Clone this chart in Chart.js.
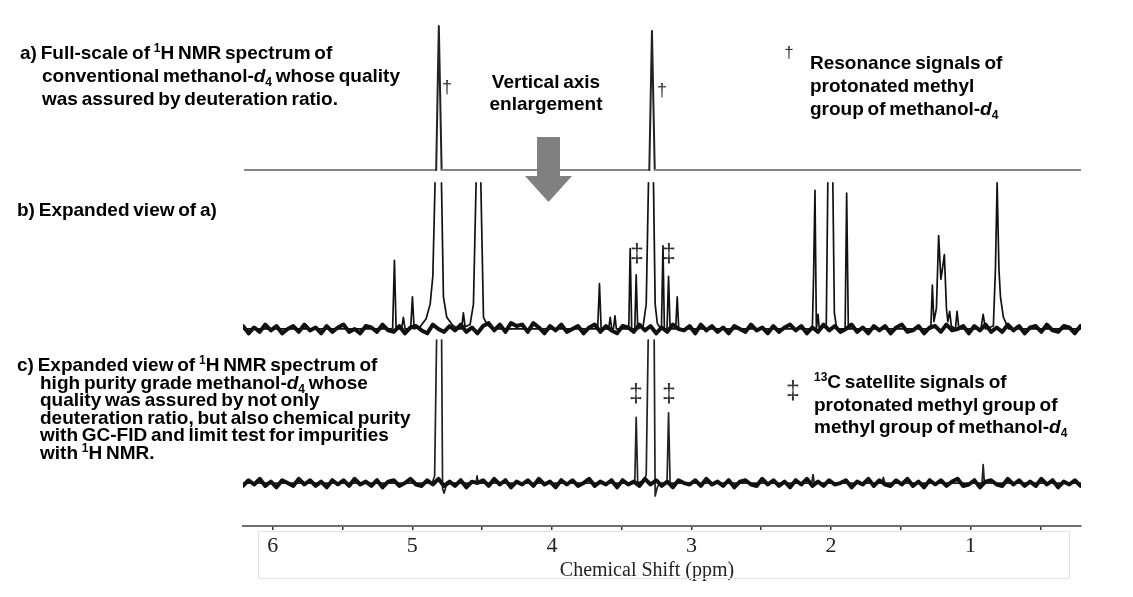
<!DOCTYPE html>
<html>
<head>
<meta charset="utf-8">
<script src="https://cdn.jsdelivr.net/npm/chart.js@4.4.1/dist/chart.umd.min.js"></script>
<style>
  html, body { margin: 0; padding: 0; background: #fff; }
  #wrap { position: relative; width: 1133px; height: 597px; }
  .note {
    position: absolute;
    font-family: "Liberation Sans", Arial, sans-serif;
    font-weight: bold;
    font-size: 19px;
    color: #000;
    white-space: nowrap;
    word-spacing: -1.5px;
  }
  .note sub { font-size: 12px; vertical-align: -4px; line-height: 0; }
  .note sup { font-size: 12px; vertical-align: 7px; line-height: 0; }
  .mark {
    position: absolute;
    font-family: "Liberation Sans", Arial, sans-serif;
    color: #333;
    line-height: 1;
    transform: translate(-50%, -50%);
  }
</style>
</head>
<body>
<div id="wrap">
  <canvas id="nmrChart"></canvas>

  <div class="note" style="left:20px;top:41px;line-height:23px;padding-left:22px;text-indent:-22px">
    a) Full-scale of <sup>1</sup>H NMR spectrum of<br>conventional methanol-<i>d</i><sub>4</sub> whose quality<br>was assured by deuteration ratio.
  </div>
  <div class="note" style="left:17px;top:198px;line-height:23px">b) Expanded view of a)</div>
  <div class="note" style="left:17px;top:356px;line-height:17.5px;padding-left:23px;text-indent:-23px">
    c) Expanded view of <sup>1</sup>H NMR spectrum of<br>high purity grade methanol-<i>d</i><sub>4</sub> whose<br>quality was assured by not only<br>deuteration ratio, but also chemical purity<br>with GC-FID and limit test for impurities<br>with <sup>1</sup>H NMR.
  </div>
  <div class="note" style="left:446px;top:71px;width:200px;text-align:center;line-height:22px">Vertical axis<br>enlargement</div>

  <div class="note" style="left:810px;top:51px;line-height:23px">Resonance signals of<br>protonated methyl<br>group of methanol-<i>d</i><sub>4</sub></div>
  <div class="note" style="left:814px;top:371px;line-height:22.5px"><sup>13</sup>C satellite signals of<br>protonated methyl group of<br>methyl group of methanol-<i>d</i><sub>4</sub></div>

  <div class="mark" style="left:447px;top:87px;font-size:18px">&dagger;</div>
  <div class="mark" style="left:662px;top:90px;font-size:18px">&dagger;</div>
  <div class="mark" style="left:789px;top:52px;font-size:17px">&dagger;</div>
  <div class="mark" style="left:637px;top:253px;font-size:25px">&Dagger;</div>
  <div class="mark" style="left:669px;top:253px;font-size:25px">&Dagger;</div>
  <div class="mark" style="left:636px;top:393px;font-size:25px">&Dagger;</div>
  <div class="mark" style="left:669px;top:393px;font-size:25px">&Dagger;</div>
  <div class="mark" style="left:793px;top:390px;font-size:25px">&Dagger;</div>
</div>

<script>
// x range (ppm) and axis labels
const ppmLeft = 6.213;
const ppmRight = 0.209;
const tickStep = 0.5;
const axisTitle = 'Chemical Shift (ppm)';

// a) full-scale spectrum, conventional methanol-d4
const specA_ppm = [6.20, 4.829, 4.810, 4.790, 3.302, 3.283, 3.263, 0.21];
const specA_val = [0, 0, 144, 0, 0, 139, 0, 0];

// b) expanded view of a) (100 = top of the panel, taller peaks are cut)
const specB_ppm = [
  6.213, 5.141, 5.128, 5.116, 5.077, 5.064, 5.052, 5.012, 4.999, 4.987,
  4.944, 4.901, 4.872, 4.853, 4.837, 4.791, 4.777, 4.753, 4.715, 4.672,
  4.647, 4.634, 4.622, 4.586, 4.562, 4.543, 4.509, 4.490, 4.464, 4.428,
  3.672, 3.659, 3.647, 3.593, 3.582, 3.571, 3.559, 3.548, 3.538,
  3.449, 3.439, 3.428, 3.406, 3.396, 3.385, 3.346, 3.324, 3.308, 3.272,
  3.260, 3.245, 3.220, 3.215, 3.204, 3.194, 3.175, 3.164, 3.153,
  3.113, 3.102, 3.091,
  2.134, 2.125, 2.115, 2.105, 2.093, 2.084, 2.034, 2.023, 1.987, 1.976,
  1.962, 1.948, 1.899, 1.888, 1.876,
  1.285, 1.274, 1.263, 1.245, 1.229, 1.213, 1.202, 1.188, 1.173, 1.163,
  1.150, 1.138, 1.109, 1.097, 1.084,
  0.926, 0.910, 0.894, 0.837, 0.822, 0.810, 0.797, 0.786, 0.765, 0.729,
  0.209
];
const specB_val = [
  0, 0, 47, 0, 0, 8, 0, 0, 22, 0,
  1.5, 7, 17, 36, 100, 100, 22, 8, 3, 0,
  0, 11, 1.5, 3, 17, 100, 100, 8, 3, 0,
  0, 31, 0, 0, 8, 0, 0, 9, 0,
  0, 55, 0, 0, 37, 0, 2, 17, 100, 100,
  17, 4, 0, 0, 57, 0, 0, 36, 0,
  0, 22, 0,
  0, 36, 95, 0, 10, 0, 2, 100, 100, 11,
  2, 0, 0, 93, 0,
  0, 30, 5, 14, 64, 34, 41, 51, 14, 5,
  12, 2, 0, 12, 0,
  0, 10, 0, 2, 41, 100, 41, 22, 8, 0,
  0
];

// c) high purity grade methanol-d4, same enlargement
const specC_ppm = [
  6.213, 4.858, 4.840, 4.826, 4.790, 4.783, 4.772, 4.758, 4.729,
  4.543, 4.536, 4.528,
  3.406, 3.396, 3.385, 3.338, 3.324, 3.310, 3.267, 3.260, 3.245, 3.224,
  3.175, 3.164, 3.153,
  2.138, 2.129, 2.120, 1.636, 1.625, 1.614, 0.918, 0.910, 0.901,
  0.209
];
const specC_val = [
  0, 0, 5, 100, 100, -4, -7, -2, 0,
  0, 5, 0,
  0, 46, 0, 2, 6, 100, 100, -9, -3, 0,
  0, 49, 0,
  0, 6, 0, 0, 4, 0, 0, 13, 0,
  0
];

// baseline noise, one value every 0.04 ppm from the left edge
const noiseStep = 0.04;
const noiseB = [
  2, -3, 1, -2, 3, -1, 2, -3, 0, 2, -2, 3, -1, 1, -3, 2, -2, 1, 3, -2, 0, -3, 2, 1, -2,
  3, -1, -2, 2, -3, 1, 2, -1, -3, 3, 0, -2, 2, -1, 3, -2, 1, -3, 2, 4, -1, 3, -2, 4, 2,
  3, -2, 4, 1, -3, 2, -1, 3, -2, 0, 2, -3, 1, 3, -2, 2, -1, -3, 2, 1, -2, 3, -1, 2, -3,
  1, -2, 3, 0, -1, 2, -3, 3, -1, 2, -2, 1, -3, 2, 0, -2, 3, -1, 1, -3, 2, -2, 1, 3, -1,
  2, -3, 1, -2, 3, -1, 2, -2, 0, 3, -2, 1, -3, 2, -1, 2, -3, 1, 3, -2, -1, 2, -3, 1, 2,
  -2, 3, -1, 0, 2, -3, 2, -1, 3, -2, 1, -2, 3, -1, 2, -3, 1, 2, -2, 3, -1, -2, 2, 1, -3,
  2
];
const noiseC = [
  -2, 2, -1, 3, -2, 1, -3, 2, 0, -2, 3, -1, 2, -2, 1, -3, 2, -1, 2, -2, 3, -1, 1, -2, 2,
  -3, 1, 2, -2, 0, 3, -1, -2, 2, -1, 3, -2, 1, -2, 2, -3, 1, 0, 2, -2, 3, -1, 2, -3, 1,
  -1, 2, -2, 3, -1, 1, -3, 2, -1, 2, -2, 0, 3, -2, 1, -1, 2, -3, 2, -1, 1, -2, 3, -1, 2,
  -2, 1, -3, 2, 0, -1, 2, -2, 3, -1, 1, -2, 2, -3, 1, 2, -1, -2, 3, -1, 2, -2, 1, -3, 2,
  -1, 3, -2, 1, -2, 2, -1, 0, 2, -3, 1, -1, 3, -2, 2, -1, -2, 2, -1, 3, -2, 1, -3, 2, -1,
  2, -2, 1, 3, -2, -1, 2, -3, 1, 2, -1, -2, 3, -1, 2, -2, 1, -2, 3, -1, 2, -3, 1, -1, 2,
  -2
];

function toPoints(xs, ys) {
  return xs.map((x, i) => ({ x: x, y: ys[i] }));
}
function noisePoints(vals) {
  return vals.map((v, i) => ({ x: ppmLeft - i * noiseStep, y: v }));
}

// don't draw the flat cut-off tops of clipped peaks
const CUT = 100;
const hideCut = ctx => (ctx.p0.parsed.y >= CUT && ctx.p1.parsed.y >= CUT) ? 'rgba(0,0,0,0)' : undefined;

// light frame round the axis labels + the grey "enlargement" arrow
const decorPlugin = {
    id: 'decor',
    afterDraw(chart) {
        const ctx = chart.ctx;
        ctx.save();
        ctx.strokeStyle = '#e2e2e2';
        ctx.lineWidth = 1;
        ctx.strokeRect(258.5, 531.5, 811, 47);

        ctx.fillStyle = '#808080';
        ctx.fillRect(537, 137, 23, 39);
        ctx.beginPath();
        ctx.moveTo(525, 176);
        ctx.lineTo(572, 176);
        ctx.lineTo(548.5, 202);
        ctx.closePath();
        ctx.fill();
        ctx.restore();
    }
};

const lineBase = {
    parsing: false,
    pointRadius: 0,
    tension: 0,
    fill: false,
    borderJoinStyle: 'round',
    borderCapStyle: 'round'
};

const ctx = document.getElementById('nmrChart').getContext('2d');
window.nmrChart = new Chart(ctx, {
    type: 'line',
    data: {
        datasets: [
            Object.assign({}, lineBase, {
                label: 'a) full scale',
                data: toPoints(specA_ppm, specA_val),
                yAxisID: 'yA',
                borderWidth: 2,
                borderColor: '#222',
                segment: {
                    borderColor: c => c.p0.parsed.y === c.p1.parsed.y ? '#858585' : undefined
                }
            }),
            Object.assign({}, lineBase, {
                label: 'b) noise',
                data: noisePoints(noiseB),
                yAxisID: 'yB',
                borderWidth: 4,
                borderColor: '#111'
            }),
            Object.assign({}, lineBase, {
                label: 'b) expanded',
                data: toPoints(specB_ppm, specB_val),
                yAxisID: 'yB',
                borderWidth: 1.7,
                borderColor: '#111',
                segment: { borderColor: hideCut }
            }),
            Object.assign({}, lineBase, {
                label: 'c) noise',
                data: noisePoints(noiseC),
                yAxisID: 'yC',
                borderWidth: 4,
                borderColor: '#111'
            }),
            Object.assign({}, lineBase, {
                label: 'c) high purity',
                data: toPoints(specC_ppm, specC_val),
                yAxisID: 'yC',
                borderWidth: 1.7,
                borderColor: '#222',
                segment: { borderColor: hideCut }
            })
        ]
    },
    options: {
        responsive: true,
        maintainAspectRatio: false,
        animation: false,
        events: [],
        layout: {
            padding: { left: 243, right: 52, top: 20, bottom: 0 }
        },
        plugins: {
            legend: { display: false },
            tooltip: { enabled: false },
            title: { display: false }
        },
        scales: {
            x: {
                type: 'linear',
                reverse: true,
                min: ppmRight,
                max: ppmLeft,
                afterFit: scale => { scale.height = 71; },
                border: { display: true, color: '#6e6e6e', width: 2 },
                grid: {
                    drawOnChartArea: false,
                    drawTicks: true,
                    tickLength: 4,
                    color: '#333',
                    lineWidth: 1.5
                },
                ticks: {
                    stepSize: tickStep,
                    includeBounds: false,
                    autoSkip: false,
                    maxRotation: 0,
                    padding: 3,
                    color: '#222',
                    font: { family: '"Liberation Serif", "DejaVu Serif", serif', size: 22 },
                    callback: v => Number.isInteger(v) ? String(v) : ''
                },
                title: {
                    display: true,
                    // trailing no-break spaces pull the centred title a little left, as in the figure
                    text: axisTitle + '\u00a0\u00a0\u00a0\u00a0\u00a0\u00a0',
                    color: '#222',
                    padding: { top: 0, bottom: 14 },
                    font: { family: '"Liberation Serif", "DejaVu Serif", serif', size: 20 }
                }
            },
            yA: {
                type: 'linear', position: 'left', stack: 'spectra', stackWeight: 158, weight: 3,
                display: false, min: -8, max: 150
            },
            yB: {
                type: 'linear', position: 'left', stack: 'spectra', stackWeight: 160, weight: 2,
                display: false, min: -6.2, max: 103.4
            },
            yC: {
                type: 'linear', position: 'left', stack: 'spectra', stackWeight: 188, weight: 1,
                display: false, min: -30, max: 101.4
            }
        }
    },
    plugins: [decorPlugin]
});
</script>
</body>
</html>
